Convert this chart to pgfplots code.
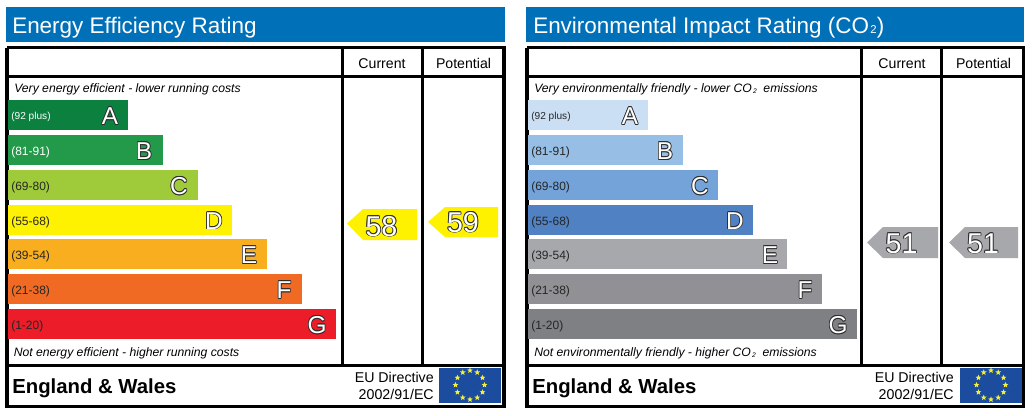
\documentclass[border=0pt]{standalone}
\usepackage{pgfplots}
\pgfplotsset{compat=1.18}
\usepackage{fontspec}
\setmainfont{Liberation Sans}
\definecolor{band}{HTML}{0070B9}
\definecolor{flag}{HTML}{1B4C9E}
\definecolor{star}{HTML}{F4EF3C}
\definecolor{edge}{HTML}{2E2E2E}
\definecolor{ea}{HTML}{0C813F}\definecolor{eb}{HTML}{23994A}\definecolor{ec}{HTML}{9FCB3B}
\definecolor{ed}{HTML}{FFF200}\definecolor{ee}{HTML}{F8AE1E}\definecolor{ef}{HTML}{F16A24}\definecolor{eg}{HTML}{ED1C29}
\definecolor{ca}{HTML}{CBDFF4}\definecolor{cb}{HTML}{97BFE6}\definecolor{cc}{HTML}{73A3D9}
\definecolor{cd}{HTML}{4F81C3}\definecolor{ce}{HTML}{A6A8AB}\definecolor{cf}{HTML}{919195}\definecolor{cg}{HTML}{7F8083}
\pgfdeclareplotmark{fstar}{%
  \pgfpathmoveto{\pgfpointpolar{90}{\pgfplotmarksize}}%
  \pgfpathlineto{\pgfpointpolar{126}{.42\pgfplotmarksize}}\pgfpathlineto{\pgfpointpolar{162}{\pgfplotmarksize}}%
  \pgfpathlineto{\pgfpointpolar{198}{.42\pgfplotmarksize}}\pgfpathlineto{\pgfpointpolar{234}{\pgfplotmarksize}}%
  \pgfpathlineto{\pgfpointpolar{270}{.42\pgfplotmarksize}}\pgfpathlineto{\pgfpointpolar{306}{\pgfplotmarksize}}%
  \pgfpathlineto{\pgfpointpolar{342}{.42\pgfplotmarksize}}\pgfpathlineto{\pgfpointpolar{18}{\pgfplotmarksize}}%
  \pgfpathlineto{\pgfpointpolar{54}{.42\pgfplotmarksize}}\pgfpathclose\pgfusepathqfill}
% white text with a thin dark outline
\newdimen\od
\newcommand{\outl}[2]{\leavevmode\hbox{%
  \od=#1\relax
  \rlap{\kern\od\textcolor{edge}{#2}}\rlap{\kern-\od\textcolor{edge}{#2}}%
  \rlap{\raise\od\hbox{\textcolor{edge}{#2}}}\rlap{\lower\od\hbox{\textcolor{edge}{#2}}}%
  \rlap{\kern.7\od\raise.7\od\hbox{\textcolor{edge}{#2}}}\rlap{\kern-.7\od\raise.7\od\hbox{\textcolor{edge}{#2}}}%
  \rlap{\kern.7\od\lower.7\od\hbox{\textcolor{edge}{#2}}}\rlap{\kern-.7\od\lower.7\od\hbox{\textcolor{edge}{#2}}}%
  \textcolor{white}{#2}}}
\newcommand{\evbar}[3]{\addplot[xbar,bar shift=0pt,bar width=22.5pt,fill=#3,draw=none] coordinates {(#1,#2)};}
\newcommand{\letter}[3]{\node[anchor=base,inner sep=0pt,font=\fontsize{18.3pt}{20pt}\selectfont] at (axis cs:#1,#2) {\outl{0.55pt}{#3}};}
\newcommand{\range}[4]{\node[anchor=base west,inner sep=0pt,text=#4,font=\fontsize{9pt}{10pt}\selectfont] at (axis cs:3,#1) {#2#3};}
\newcommand{\score}[3]{\node[anchor=base,inner sep=0pt,font=\fontsize{21.5pt}{24pt}\selectfont] at (axis cs:#1,#2) {\outl{0.65pt}{#3}};}
\newcommand{\framebits}[5]{% #1 title right, #2 right frame, #3 col1, #4 col2, #5 title left
  \addplot[fill=band,draw=none] coordinates {(#5,7) (#1,7) (#1,42) (#5,42)};
  \addplot[black,line width=2.3pt,line join=miter] coordinates {(-1,47.5) (#2,47.5) (#2,365.5) (-1,365.5) (-1,47.5)};
  \addplot[black,line width=2.3pt] coordinates {(-1,76.5) (#2,76.5)};
  \addplot[black,line width=2.3pt] coordinates {(#3,47.5) (#3,365.5)};
  \addplot[black,line width=2.3pt] coordinates {(#4,47.5) (#4,365.5)};
  \addplot[black,line width=2.3pt,line join=miter] coordinates {(-1,365.5) (#2,365.5) (#2,406.5) (-1,406.5) (-1,365.5)};
  \node[anchor=base,inner sep=0pt,font=\fontsize{10.6pt}{12pt}\selectfont] at (axis cs:374,68) {Current};
  \node[anchor=base,inner sep=0pt,font=\fontsize{10.6pt}{12pt}\selectfont] at (axis cs:455.5,68) {Potential};
  \node[anchor=base west,inner sep=0pt,font=\bfseries\fontsize{15.25pt}{17pt}\selectfont] at (axis cs:4,393) {England \& Wales};
  \node[anchor=base east,inner sep=0pt,font=\fontsize{10.65pt}{12pt}\selectfont] at (axis cs:426,382) {EU Directive};
  \node[anchor=base east,inner sep=0pt,font=\fontsize{10.65pt}{12pt}\selectfont] at (axis cs:426,399) {2002/91/EC};
}
\pgfplotsset{panel/.style={anchor=south west,scale only axis,height=311.25pt,axis lines=none,clip=false,
  xmin=-8,ymin=0,ymax=415,y dir=reverse}}
\newcommand{\subtwo}{\raisebox{-0.8pt}{\fontsize{5pt}{6pt}\selectfont\,2}}
\begin{document}
\begin{tikzpicture}
\useasboundingbox (0,0) rectangle (774pt,311.25pt);
% ---------- Energy Efficiency Rating
\begin{axis}[panel,at={(0pt,0pt)},width=390pt,xmax=512]
\framebits{497}{496}{334.5}{414.5}{-2}
\node[anchor=base west,inner sep=0pt,text=white,font=\fontsize{16.85pt}{19pt}\selectfont] at (axis cs:4,33) {Energy Efficiency Rating};
\evbar{120}{115}{ea}
\evbar{155}{150}{eb}
\evbar{190}{185}{ec}
\evbar{224}{219.5}{ed}
\evbar{259}{254}{ee}
\evbar{294}{289}{ef}
\evbar{328}{324}{eg}
\node[anchor=base west,inner sep=0pt,font=\itshape\fontsize{9.14pt}{11pt}\selectfont] at (axis cs:6,92.5) {Very energy efficient - lower running costs};
\node[anchor=base west,inner sep=0pt,font=\itshape\fontsize{9.14pt}{11pt}\selectfont] at (axis cs:5.5,356.5) {Not energy efficient - higher running costs};
\node[anchor=base west,inner sep=0pt,text=white,font=\fontsize{7.6pt}{10pt}\selectfont] at (axis cs:3,119.5) {(92 plus)};
\range{155}{(81-91)}{}{white}
\range{190}{(69-80)}{}{black!85}
\range{225}{(55-68)}{}{black!85}
\range{259.5}{(39-54)}{}{black!85}
\range{294.5}{(21-38)}{}{black!85}
\range{329.5}{(1-20)}{}{black!85}
\letter{102}{124.5}{A}
\letter{136}{159.5}{B}
\letter{171}{194.5}{C}
\letter{206}{229}{D}
\letter{241}{263.5}{E}
\letter{276}{298.5}{F}
\letter{309}{333.5}{G}
\addplot[fill=ed,draw=none] coordinates {(339,223.5) (355,209) (409,209) (409,240) (355,240)};
\addplot[fill=ed,draw=none] coordinates {(420,222) (437,207) (490,207) (490,237) (437,237)};
\score{373.5}{236}{58}
\score{455}{232}{59}
\addplot[fill=flag,draw=none] coordinates {(431,368) (493,368) (493,403) (431,403)};
\addplot[only marks,mark=fstar,mark size=2.3pt,star] coordinates {(462,370.5) (469.25,372.4) (474.56,377.75) (476.5,385) (474.56,392.25) (469.25,397.6) (462,399.5) (454.75,397.6) (449.44,392.25) (447.5,385) (449.44,377.75) (454.75,372.4)};
\end{axis}
% ---------- Environmental Impact Rating
\begin{axis}[panel,at={(390pt,0pt)},width=384pt,xmax=504]
\framebits{496}{495.5}{333.5}{413.5}{-2}
\node[anchor=base west,inner sep=0pt,text=white,font=\fontsize{16.85pt}{19pt}\selectfont] at (axis cs:5,33) {Environmental Impact Rating (CO\raisebox{-0.5pt}{\fontsize{8.5pt}{10pt}\selectfont\kern1pt 2})};
\evbar{120}{115}{ca}
\evbar{155}{150}{cb}
\evbar{190}{185}{cc}
\evbar{225}{219.5}{cd}
\evbar{259}{254}{ce}
\evbar{294}{289}{cf}
\evbar{329}{324}{cg}
\node[anchor=base west,inner sep=0pt,font=\itshape\fontsize{9.14pt}{11pt}\selectfont] at (axis cs:6,92.5) {Very environmentally friendly - lower CO\subtwo\ \ emissions};
\node[anchor=base west,inner sep=0pt,font=\itshape\fontsize{9.14pt}{11pt}\selectfont] at (axis cs:6,356.5) {Not environmentally friendly - higher CO\subtwo\ \ emissions};
\node[anchor=base west,inner sep=0pt,text=black!85,font=\fontsize{7.6pt}{10pt}\selectfont] at (axis cs:3,119.5) {(92 plus)};
\range{155}{(81-91)}{}{black!85}
\range{190}{(69-80)}{}{black!85}
\range{225}{(55-68)}{}{black!85}
\range{259.5}{(39-54)}{}{black!85}
\range{294.5}{(21-38)}{}{black!85}
\range{329.5}{(1-20)}{}{black!85}
\letter{102}{124.5}{A}
\letter{137}{159.5}{B}
\letter{172}{194.5}{C}
\letter{207}{229}{D}
\letter{242}{263.5}{E}
\letter{277}{298.5}{F}
\letter{310}{333.5}{G}
\addplot[fill=ce,draw=none] coordinates {(339,242.5) (355,227) (410,227) (410,258) (355,258)};
\addplot[fill=ce,draw=none] coordinates {(421,242.5) (437,227) (490,227) (490,258) (437,258)};
\score{373.5}{253}{51}
\score{455}{253}{51}
\addplot[fill=flag,draw=none] coordinates {(432,368) (494,368) (494,403) (432,403)};
\addplot[only marks,mark=fstar,mark size=2.3pt,star] coordinates {(463,370.5) (470.25,372.4) (475.56,377.75) (477.5,385) (475.56,392.25) (470.25,397.6) (463,399.5) (455.75,397.6) (450.44,392.25) (448.5,385) (450.44,377.75) (455.75,372.4)};
\end{axis}
\end{tikzpicture}
\end{document}
